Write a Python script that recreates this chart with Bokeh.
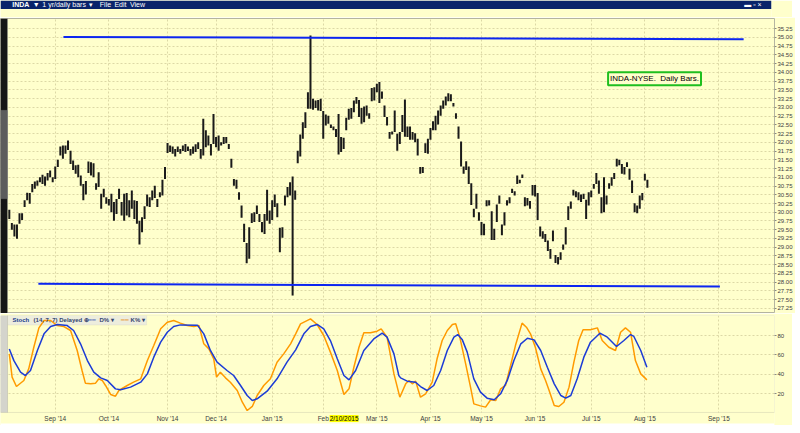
from bokeh.plotting import figure
from bokeh.layouts import column
from bokeh.models import (Range1d, FixedTicker, PrintfTickFormatter, Label,
                          BoxAnnotation, ColumnDataSource)
from bokeh.embed import file_html
from bokeh.resources import INLINE

# ---------------- data ----------------
highs = [
    30.07, 29.69, 29.65, 29.65, 29.97, 29.97, 30.34, 30.56, 30.55, 30.81,
    30.88, 30.91, 31.00, 31.07, 31.02, 31.12, 31.19, 31.00, 31.31, 31.50,
    31.88, 31.91, 31.91, 32.05, 31.76, 31.48, 31.34, 31.36, 31.05, 30.81,
    30.89, 31.45, 31.43, 31.40, 30.83, 31.14, 30.53, 30.67, 30.43, 30.38,
    30.53, 30.29, 30.38, 30.67, 30.29, 30.53, 30.55, 30.34, 30.62, 30.34,
    30.32, 29.76, 29.86, 30.17, 30.51, 30.43, 30.62, 30.76, 30.38, 30.57,
    30.93, 31.29, 31.98, 31.91, 31.88, 31.81, 31.88, 31.81, 31.91, 31.95,
    31.88, 31.81, 31.88, 31.94, 32.00, 31.81,
    32.67, 32.34, 32.19, 31.95, 32.81, 32.15, 32.19, 32.00, 32.15, 32.15,
    31.95, 31.53, 30.95, 30.93, 30.57, 30.19, 29.67, 29.12, 29.57, 29.97,
    30.00, 30.19, 29.95, 29.72, 29.95, 30.64, 30.05, 30.34, 30.51, 30.26,
    29.56, 29.57, 30.48, 30.72, 30.86, 31.02, 30.62, 31.76, 32.22, 32.57,
    32.86, 33.43, 35.05, 33.24, 33.19, 33.21, 33.24, 32.89, 32.79, 32.76,
    32.51, 32.45, 32.38, 32.81, 32.15, 32.13, 32.70, 32.96, 32.98, 33.19,
    33.29, 33.21, 32.98, 33.02, 33.05, 32.83, 33.55, 33.57, 33.67, 33.72,
    33.45, 33.05, 32.72, 32.29, 32.31, 32.91, 32.24, 32.29, 32.78, 33.22,
    32.45, 32.45, 32.29, 32.26, 32.10, 31.29, 31.29, 31.97, 32.10, 32.41,
    32.60, 32.76, 32.91, 33.05, 33.19, 33.31, 33.40, 33.37, 33.12, 32.83,
    32.45, 32.02, 31.31, 31.46, 31.31, 30.83, 30.10, 30.53, 30.00, 29.72,
    29.67, 30.34, 30.34, 30.03, 29.53, 30.22, 30.48, 29.65, 30.00, 30.34,
    30.43, 30.67, 30.60, 31.05, 30.93, 31.08, 30.43, 30.41, 30.32, 30.78,
    30.78, 30.55, 29.59, 29.46, 29.38, 29.19, 28.95, 29.48, 28.78, 28.72,
    28.86, 29.08, 29.57, 30.17, 30.31, 30.64, 30.60, 30.57,
    30.51, 30.53, 30.36, 30.57, 30.62, 30.81, 31.12, 30.91, 30.43, 31.00,
    30.48, 30.83, 31.00, 31.12, 31.53, 31.50, 31.38, 31.29, 31.43, 31.24,
    30.91, 30.26, 30.19, 30.48, 30.55, 31.10, 30.93,
]
lows = [
    29.81, 29.50, 29.31, 29.24, 29.67, 29.78, 30.15, 30.34, 30.24, 30.57,
    30.67, 30.76, 30.86, 30.81, 30.76, 30.91, 31.00, 30.86, 30.95, 31.29,
    31.62, 31.53, 31.67, 31.78, 31.38, 31.21, 31.10, 31.00, 30.76, 30.34,
    30.51, 31.12, 31.05, 31.00, 30.64, 30.72, 30.10, 30.43, 30.24, 30.19,
    30.00, 29.76, 29.95, 30.38, 29.91, 29.76, 29.91, 29.86, 30.10, 29.81,
    29.67, 29.08, 29.43, 29.81, 30.17, 30.15, 30.34, 30.41, 30.15, 30.43,
    30.48, 30.95, 31.69, 31.72, 31.67, 31.59, 31.72, 31.67, 31.75, 31.72,
    31.75, 31.62, 31.67, 31.72, 31.81, 31.53,
    31.62, 31.86, 31.91, 31.62, 31.95, 31.86, 31.76, 31.91, 31.95, 31.97,
    31.81, 31.27, 30.76, 30.67, 30.36, 29.84, 29.15, 28.54, 28.67, 29.69,
    29.72, 29.95, 29.72, 29.43, 29.38, 29.76, 29.67, 29.78, 30.15, 29.86,
    28.86, 29.27, 30.19, 30.43, 30.48, 27.62, 30.36, 31.40, 31.59, 32.10,
    32.41, 32.96, 32.96, 32.93, 32.98, 32.91, 32.89, 32.10, 32.48, 32.53,
    32.41, 32.34, 32.15, 31.65, 31.72, 31.81, 32.34, 32.64, 32.67, 32.86,
    33.10, 32.72, 32.53, 32.57, 32.76, 32.67, 33.17, 33.19, 33.43, 33.12,
    33.24, 32.72, 32.48, 32.10, 32.22, 32.29, 31.76, 31.95, 32.29, 32.16,
    32.15, 32.07, 32.07, 32.00, 31.62, 31.10, 31.12, 31.69, 31.67, 32.07,
    32.34, 32.34, 32.51, 32.76, 32.96, 33.05, 33.17, 33.17, 33.02, 32.67,
    32.10, 31.31, 31.10, 31.21, 30.81, 30.21, 29.86, 30.10, 29.76, 29.34,
    29.34, 30.17, 30.19, 29.21, 29.21, 29.72, 30.24, 29.34, 29.62, 30.19,
    30.26, 30.55, 30.48, 30.81, 30.83, 30.98, 30.17, 30.19, 30.10, 30.48,
    30.45, 29.78, 29.31, 29.24, 29.15, 28.89, 28.67, 29.17, 28.55, 28.51,
    28.64, 28.93, 29.08, 29.78, 30.10, 30.48, 30.43, 30.34,
    30.29, 30.38, 29.81, 30.19, 30.43, 30.67, 30.81, 30.53, 29.97, 30.00,
    30.22, 30.67, 30.76, 30.95, 31.31, 31.34, 31.10, 31.08, 31.29, 30.93,
    30.55, 30.00, 29.97, 30.10, 30.34, 30.91, 30.70,
]
days = list(range(len(highs)))

# trend lines (day index, price)
trend_x0 = [21.2, 11.4]
trend_y0 = [35.01, 27.955]
trend_x1 = [287.7, 278.4]
trend_y1 = [34.945, 27.88]

# stochastic (14,7,7): %D and %K
d_day = [0, 1.8, 4.4, 6.3, 8.3, 11, 13.6, 16.2, 18.8, 22.7, 25.2, 27.9, 30.6, 33.1,
         35.8, 38.4, 41.6, 43.6, 47.5, 51.5, 54.1, 56.6, 59.3, 61.9, 64.4, 67, 73.7,
         76.2, 78.8, 81.4, 85.3, 87.9, 90.6, 93.2, 95.2, 97.1, 101, 104.9, 108.8,
         112.2, 115.4, 118, 120.6, 123.2, 125.8, 128.5, 131.1, 133.1, 135.7, 138.9,
         142.8, 146.1, 148, 150.7, 152.6, 153.3, 155.9, 159.2, 161.1, 163.7, 166.3,
         169, 171.6, 174.2, 175.7, 177.5, 179.4, 182, 184.6, 187.2, 190, 192.5,
         195.1, 197.7, 200.4, 203, 205.6, 208.2, 210.8, 213.5, 216.1, 218, 220,
         222.5, 225.1, 227.7, 231.4, 234.3, 237.9, 240.8, 243.4, 244.7, 247.4, 249.8]
d_val = [66, 54, 42, 38.6, 43.8, 64.5, 81.7, 89.3, 91.4, 90.3, 85.2, 71.4, 54.1, 42.1,
         36.2, 33.5, 24.8, 23.8, 26.6, 31.7, 40.3, 57.6, 73.1, 83.4, 89.3, 91, 90.7,
         81.7, 64.5, 52.4, 43.8, 38.6, 28.3, 17.9, 12.8, 14.5, 22.4, 35.2, 52.4,
         65.2, 81.7, 89.3, 91.4, 86.9, 74.8, 55.9, 38.6, 34.1, 43.8, 64.5,
         76.5, 82.4, 78.3, 61, 38.6, 36.2, 32.8, 31.7, 27.2, 23.1, 28.3,
         43.8, 64.5, 78.3, 81, 75.5, 62.8, 35.2, 21.4, 15.2, 13.5, 19.7,
         33.5, 54.1, 71.4, 77.2, 75.5, 64.5, 47.2, 30, 17.9, 15.2, 17.9,
         35.2, 57.6, 73.1, 82.4, 78.3, 68.6, 74.8, 81, 79, 64.5, 47.2]
k_day = [0, 1.1, 2.8, 5.7, 7.6, 9.6, 11.6, 13.6, 16.2, 18.8, 21.4, 24, 26.6, 28.5,
         29.8, 31.9, 33.8, 35.1, 36.4, 37.7, 39.7, 41.6, 42.9, 46.2, 48.7, 51.5,
         54.1, 56.6, 59.3, 61.9, 64.4, 67, 69.7, 72.3, 74.3, 76.2, 78.2, 80.1,
         81.2, 82.7, 84.7, 86.6, 89.3, 91.3, 93.2, 95.2, 97.1, 99.7, 102.3, 104.9,
         107.5, 110.2, 112.2, 114.1, 118, 120.6, 123.2, 125.8, 128.5, 131.1, 133.1,
         135, 137, 138.9, 141.5, 144.1, 145.7, 148, 150.7, 153, 155.3, 156.6, 157.9,
         159.2, 161.1, 163.1, 165.7, 167.6, 169.6, 171.6, 173.6, 174.9, 176.5,
         178.8, 180.7, 182, 184.6, 186.6, 188.6, 190.6, 192.5, 194.4, 196.4, 198.3,
         200.9, 202.6, 204.2, 206.1, 208.2, 210.1, 211.4, 213.5, 215.3, 217.3,
         219.3, 221.2, 223.1, 224.8, 227.7, 230.4, 232.3, 234.9, 237.5, 239.5,
         241.4, 243.4, 245.3, 247.4, 249.8]
k_val = [61, 36.9, 27.2, 33.5, 45.5, 67.9, 87.9, 95.5, 95.5, 90.3, 89.3, 85.2, 64.5, 43.8,
         30.7, 30, 30.7, 35.2, 33.5, 28.3, 19, 17.2, 23.1, 28.3, 31.7, 35.2,
         54.1, 69.6, 86.9, 93.8, 95.5, 92.8, 90.3, 89.3, 90.3, 71.4, 66.2, 55.9,
         36.9, 42.1, 36.2, 31.7, 23.1, 11, 2.4, 6.6, 17.9, 28.3, 35.2, 52.4,
         61, 71.4, 81.7, 92.1, 97.2, 91.4, 80, 62.8, 43.8, 19, 24.8,
         47.2, 67.9, 82.8, 82.8, 84.5, 86.9, 78.3, 40.3, 16.2, 30, 33.5, 30,
         32.8, 16.2, 19.7, 31.7, 55.9, 74.8, 85.2, 91.4, 92.1, 78.3,
         50.7, 26.6, 9.3, 7.2, 5.9, 13.5, 12.8, 24.8, 28.3, 49, 69.6,
         92.8, 88.6, 81.7, 67.9, 45.5, 33.5, 23.8, 7.6, 6.6, 11,
         26.6, 52.4, 74.8, 85.9, 85.9, 87.9, 74.8, 67.9, 64.5, 83.4,
         87.9, 83.4, 54.1, 40.3, 34.1]

month_days = [18, 39, 62, 81, 103, 123, 144, 165, 185, 206, 228, 249, 278]
month_labels = ["Sep '14", "Oct '14", "Nov '14", "Dec '14", "Jan '15", "Feb",
                "Mar '15", "Apr '15", "May '15", "Jun '15", "Jul '15", "Aug '15",
                "Sep '15"]
price_ticks = [27.25, 27.5, 27.75, 28.0, 28.25, 28.5, 28.75, 29.0, 29.25, 29.5,
               29.75, 30.0, 30.25, 30.5, 30.75, 31.0, 31.25, 31.5, 31.75, 32.0,
               32.25, 32.5, 32.75, 33.0, 33.25, 33.5, 33.75, 34.0, 34.25, 34.5,
               34.75, 35.0, 35.25]
stoch_ticks = [20, 40, 60, 80]

# ---------------- styles ----------------
BG = "#ffffcc"
GRID = "#dcd8a6"
OUTLINE = "#b4b4a0"
AXIS_TXT = "#404040"
FONT = "Liberation Sans"
X0, X1 = -3.45, 299.8          # x-range: plot area spans the whole left edge
STRIP_R = -0.7                  # right edge of the dark strip (day units)
X_RANGE = Range1d(X0, X1)
S_LO, S_HI = -13.1, 100.7       # stochastic range incl. the date-label row
S_BOT = 0.35                    # bottom of the stochastic panel
S_WHITE = -11.0                 # below this the window is white

# ---------------- header (title bar + toolbar row) ----------------
h = figure(width=792, height=17, x_range=Range1d(0, 792), y_range=Range1d(0, 17),
           toolbar_location=None, output_backend="svg", min_border=0,
           x_axis_location=None, y_axis_location=None)
h.background_fill_color = BG
h.border_fill_color = BG
h.outline_line_color = None
h.xgrid.visible = False
h.ygrid.visible = False
h.add_layout(BoxAnnotation(bottom=8.6, top=17, fill_color="#0a246a", fill_alpha=1,
                           line_color=None))
for txt, xx, bold in [("INDA", 12, True), ("▼", 33, False), ("1 yr/daily bars", 43, False),
                      ("▾", 91, False), ("File", 102, False), ("Edit", 117, False),
                      ("View", 133, False), ("▬ ▫ ×", 764, False)]:
    h.add_layout(Label(x=xx, y=12.8, text=txt, text_color="white", text_font=FONT,
                       text_font_size="7px", text_baseline="middle",
                       text_font_style="bold" if bold else "normal"))

# ---------------- price panel ----------------
p = figure(frame_width=774, frame_height=295, x_range=X_RANGE,
           y_range=Range1d(27.107, 35.536),
           y_axis_location="right", x_axis_location=None,
           toolbar_location=None, output_backend="svg",
           min_border_left=0, min_border_right=18, min_border_top=1, min_border_bottom=0)
p.background_fill_color = BG
p.border_fill_color = BG
p.outline_line_color = OUTLINE
p.yaxis.ticker = FixedTicker(ticks=price_ticks)
p.yaxis.formatter = PrintfTickFormatter(format="%.2f")
p.yaxis.axis_line_color = None
p.yaxis.major_tick_line_color = "#8c8c80"
p.yaxis.major_tick_out = 2
p.yaxis.major_tick_in = 0
p.yaxis.minor_tick_line_color = None
p.yaxis.major_label_standoff = 1
p.yaxis.major_label_text_font = FONT
p.yaxis.major_label_text_font_size = "6px"
p.yaxis.major_label_text_color = AXIS_TXT
p.ygrid.grid_line_color = GRID
p.ygrid.grid_line_dash = "2 2"
p.xgrid.ticker = FixedTicker(ticks=month_days)
p.xgrid.grid_line_color = GRID
p.xgrid.grid_line_dash = "2 2"

# dark scroll strip at the far left
p.add_layout(BoxAnnotation(left=X0, right=STRIP_R, fill_color="#161616", fill_alpha=1,
                           line_color="#9a9a9a"))
p.add_layout(BoxAnnotation(left=X0, right=STRIP_R, top=32.91, bottom=30.39,
                           fill_color="#5c5c5c", fill_alpha=1, line_color="#9a9a9a"))

src = ColumnDataSource(dict(day=days, high=highs, low=lows))
p.segment(x0="day", y0="low", x1="day", y1="high", source=src,
          line_color="#1a1a1a", line_width=2)
p.segment(x0=trend_x0, y0=trend_y0, x1=trend_x1, y1=trend_y1,
          line_color="#0c26f0", line_width=2)
p.add_layout(Label(x=234.6, y=34.0, text="INDA-NYSE.\u00a0 Daily Bars.",
                   text_font=FONT, text_font_size="8px", text_color="black",
                   text_align="left", text_baseline="top",
                   background_fill_color=BG, border_line_color="#1fbf1f",
                   border_line_width=2, padding=2))

# ---------------- stochastic panel (frame reaches down over the date row) ----------------
s = figure(frame_width=774, frame_height=110, x_range=X_RANGE,
           y_range=Range1d(S_LO, S_HI),
           y_axis_location="right", toolbar_location=None, output_backend="svg",
           min_border_left=0, min_border_right=18, min_border_top=2, min_border_bottom=0)
s.background_fill_color = BG
s.border_fill_color = BG
s.outline_line_color = None
s.yaxis.ticker = FixedTicker(ticks=stoch_ticks)
s.yaxis.axis_line_color = None
s.yaxis.major_tick_line_color = "#8c8c80"
s.yaxis.major_tick_out = 2
s.yaxis.major_tick_in = 0
s.yaxis.minor_tick_line_color = None
s.yaxis.major_label_standoff = 1
s.yaxis.major_label_text_font = FONT
s.yaxis.major_label_text_font_size = "6px"
s.yaxis.major_label_text_color = AXIS_TXT
s.xaxis.ticker = FixedTicker(ticks=month_days)
s.xaxis.major_label_overrides = dict(zip(month_days, month_labels))
s.xaxis.axis_line_color = None
s.xaxis.major_tick_line_color = None
s.xaxis.major_tick_out = 0
s.xaxis.major_tick_in = 0
s.xaxis.minor_tick_line_color = None
s.xaxis.major_label_standoff = -11
s.xaxis.major_label_text_font = FONT
s.xaxis.major_label_text_font_size = "6.5px"
s.xaxis.major_label_text_color = AXIS_TXT
s.ygrid.grid_line_color = GRID
s.ygrid.grid_line_dash = "2 2"
s.xgrid.grid_line_color = GRID
s.xgrid.grid_line_dash = "2 2"

# date row: plain background (hides grid lines), white window edge, panel border, left strip
s.add_layout(BoxAnnotation(bottom=S_LO, top=S_BOT, fill_color=BG, fill_alpha=1,
                           line_color=None, level="underlay"))
s.add_layout(BoxAnnotation(bottom=S_LO, top=S_WHITE, fill_color="white", fill_alpha=1,
                           line_color=None, level="underlay"))
s.add_layout(BoxAnnotation(left=STRIP_R, right=X1, top=S_HI, bottom=S_BOT,
                           fill_alpha=0, line_color=OUTLINE, level="underlay"))
s.add_layout(BoxAnnotation(left=X0, right=STRIP_R, bottom=S_BOT, fill_color="#d4d4cc",
                           fill_alpha=1, line_color="#a8a8a0"))
s.add_layout(BoxAnnotation(left=STRIP_R, right=53.8, top=S_HI, bottom=90.9,
                           fill_color="#ededdd", fill_alpha=1,
                           line_color="#d0d0c0", level="underlay"))
s.line(k_day, k_val, line_color="#ff9a00", line_width=1.5)
s.line(d_day, d_val, line_color="#1c3cd6", line_width=1.5)

LEG = "#34466e"
for txt, xx, col, bold in [("Stoch", 1.25, "#1b3c8c", True),
                           ("(14, 7, 7) Delayed ⊕", 9.5, LEG, True),
                           ("━━", 31.0, "#5a72b8", False),
                           ("D% ▾", 35.3, LEG, True),
                           ("━━", 43.6, "#e8a040", False),
                           ("K% ▾", 47.5, LEG, True)]:
    s.add_layout(Label(x=xx, y=95.8, text=txt, text_color=col, text_font=FONT,
                       text_font_size="6px", text_baseline="middle",
                       text_font_style="bold" if bold else "normal"))

s.add_layout(Label(x=125.5, y=-5.9, text="2/10/2015", text_font=FONT,
                   text_font_size="6.5px", text_color="black", text_align="left",
                   text_baseline="middle", background_fill_color="#ffff00"))

layout = column(h, p, s, spacing=0)
open("out.html", "w").write(file_html(layout, INLINE))
